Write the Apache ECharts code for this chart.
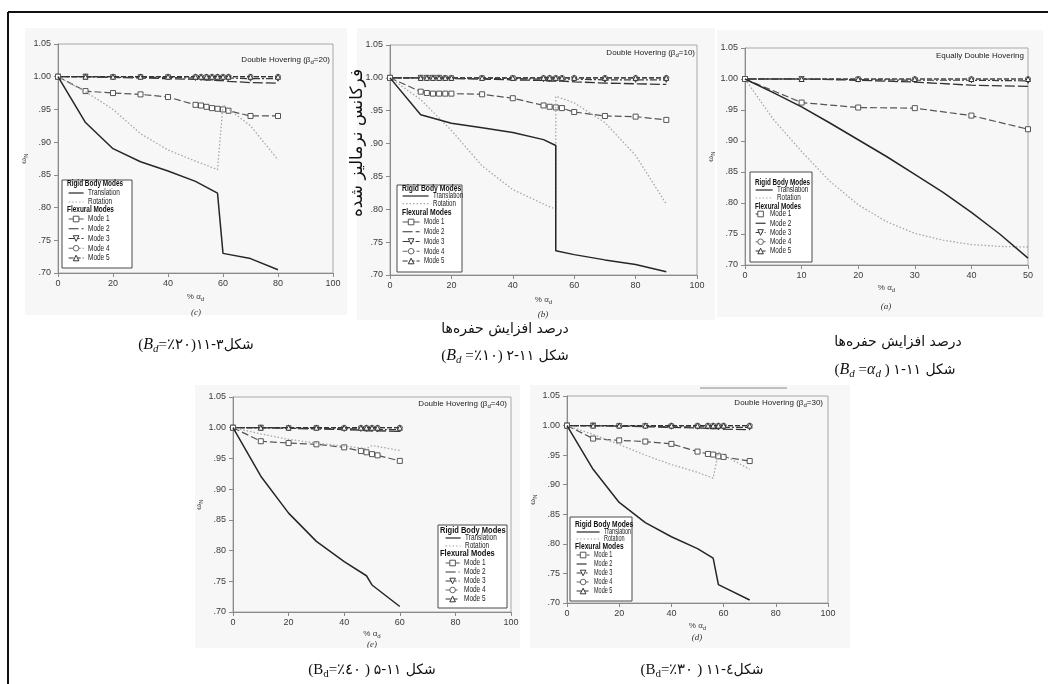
<!DOCTYPE html>
<html><head><meta charset="utf-8">
<script src="https://cdn.jsdelivr.net/npm/echarts@6/dist/echarts.min.js"></script>
<style>html,body{margin:0;padding:0;background:#fff}#chart{width:1048px;height:684px}</style>
</head><body><div id="chart"></div>
<script>
// ---------------- DATA ----------------
const SERIES_NAMES = ['Translation', 'Rotation', 'Mode 1', 'Mode 2', 'Mode 3', 'Mode 4', 'Mode 5'];
const Y_MIN = 0.70, Y_MAX = 1.05, Y_STEP = 0.05;

// (c) Double Hovering (beta_d = 20)
const c_xr = [0, 10, 20, 30, 40, 50, 58, 60, 70, 80];
const c_trans = [1.000, 0.930, 0.890, 0.870, 0.856, 0.840, 0.822, 0.730, 0.722, 0.705];
const c_rot = [1.000, 0.977, 0.950, 0.913, 0.888, 0.871, 0.858, 0.957, 0.925, 0.873];
const c_xm = [0, 10, 20, 30, 40, 50, 52, 54, 56, 58, 60, 62, 70, 80];
const c_m1 = [1.000, 0.978, 0.975, 0.973, 0.969, 0.957, 0.956, 0.954, 0.952, 0.951, 0.950, 0.948, 0.940, 0.940];
const c_m2 = [1.000, 1.000, 0.999, 0.998, 0.997, 0.996, 0.996, 0.995, 0.995, 0.994, 0.994, 0.993, 0.991, 0.990];
const c_m3 = [1.000, 1.000, 0.999, 0.999, 0.999, 0.998, 0.998, 0.998, 0.998, 0.998, 0.998, 0.998, 0.997, 0.997];
const c_m4 = [1.000, 1.000, 1.000, 1.000, 1.000, 1.000, 1.000, 1.000, 1.000, 1.000, 1.000, 1.000, 1.000, 1.000];
const c_m5 = [1.000, 1.000, 1.000, 1.000, 1.000, 1.000, 1.000, 1.000, 1.000, 1.000, 1.000, 1.000, 1.000, 1.000];

// (b) Double Hovering (beta_d = 10)
const b_xr = [0, 10, 20, 30, 40, 50, 54, 54, 60, 70, 80, 90];
const b_trans = [1.000, 0.944, 0.931, 0.924, 0.917, 0.906, 0.897, 0.737, 0.731, 0.723, 0.716, 0.705];
const b_rot = [1.000, 0.967, 0.920, 0.866, 0.830, 0.808, 0.800, 0.972, 0.962, 0.932, 0.882, 0.808];
const b_xm = [0, 10, 12, 14, 16, 18, 20, 30, 40, 50, 52, 54, 56, 60, 70, 80, 90];
const b_m1 = [1.000, 0.979, 0.977, 0.976, 0.976, 0.976, 0.976, 0.975, 0.969, 0.958, 0.956, 0.955, 0.954, 0.948, 0.942, 0.941, 0.936];
const b_m2 = [1.000, 1.000, 1.000, 1.000, 0.999, 0.999, 0.999, 0.998, 0.997, 0.996, 0.995, 0.995, 0.995, 0.994, 0.992, 0.991, 0.990];
const b_m3 = [1.000, 1.000, 1.000, 1.000, 1.000, 0.999, 0.999, 0.999, 0.999, 0.998, 0.998, 0.998, 0.998, 0.998, 0.997, 0.997, 0.997];
const b_m4 = [1.000, 1.000, 1.000, 1.000, 1.000, 1.000, 1.000, 1.000, 1.000, 1.000, 1.000, 1.000, 1.000, 1.000, 1.000, 1.000, 1.000];
const b_m5 = [1.000, 1.000, 1.000, 1.000, 1.000, 1.000, 1.000, 1.000, 1.000, 1.000, 1.000, 1.000, 1.000, 1.000, 1.000, 1.000, 1.000];

// (a) Equally Double Hovering
const a_xr = [0, 5, 10, 15, 20, 25, 30, 35, 40, 45, 50];
const a_trans = [1.000, 0.978, 0.955, 0.929, 0.902, 0.875, 0.846, 0.817, 0.785, 0.750, 0.711];
const a_rot = [1.000, 0.935, 0.883, 0.835, 0.797, 0.770, 0.751, 0.740, 0.733, 0.730, 0.729];
const a_xm = [0, 10, 20, 30, 40, 50];
const a_m1 = [1.000, 0.962, 0.954, 0.953, 0.941, 0.919];
const a_m2 = [1.000, 1.000, 0.998, 0.995, 0.990, 0.988];
const a_m3 = [1.000, 1.000, 0.999, 0.998, 0.998, 0.997];
const a_m4 = [1.000, 1.000, 1.000, 1.000, 1.000, 1.000];
const a_m5 = [1.000, 1.000, 1.000, 1.000, 1.000, 1.000];

// (e) Double Hovering (beta_d = 40)
const e_xr = [0, 10, 20, 30, 40, 48, 50, 60];
const e_trans = [1.000, 0.921, 0.861, 0.815, 0.782, 0.759, 0.744, 0.709];
const e_rot = [1.000, 0.990, 0.981, 0.975, 0.970, 0.966, 0.971, 0.963];
const e_xm = [0, 10, 20, 30, 40, 46, 48, 50, 52, 60];
const e_m1 = [1.000, 0.978, 0.975, 0.973, 0.968, 0.962, 0.960, 0.957, 0.955, 0.946];
const e_m2 = [1.000, 1.000, 0.999, 0.998, 0.997, 0.996, 0.995, 0.995, 0.995, 0.994];
const e_m3 = [1.000, 1.000, 0.999, 0.999, 0.998, 0.998, 0.998, 0.998, 0.997, 0.997];
const e_m4 = [1.000, 1.000, 1.000, 1.000, 1.000, 1.000, 1.000, 1.000, 1.000, 1.000];
const e_m5 = [1.000, 1.000, 1.000, 1.000, 1.000, 1.000, 1.000, 1.000, 1.000, 1.000];

// (d) Double Hovering (beta_d = 30)
const d_xr = [0, 10, 20, 30, 40, 50, 56, 58, 70];
const d_trans = [1.000, 0.926, 0.870, 0.836, 0.812, 0.792, 0.776, 0.731, 0.705];
const d_rot = [1.000, 0.985, 0.968, 0.950, 0.934, 0.921, 0.911, 0.955, 0.926];
const d_xm = [0, 10, 20, 30, 40, 50, 54, 56, 58, 60, 70];
const d_m1 = [1.000, 0.978, 0.975, 0.973, 0.969, 0.956, 0.952, 0.951, 0.948, 0.947, 0.940];
const d_m2 = [1.000, 1.000, 0.999, 0.998, 0.997, 0.996, 0.995, 0.995, 0.995, 0.994, 0.993];
const d_m3 = [1.000, 1.000, 0.999, 0.999, 0.998, 0.998, 0.998, 0.998, 0.997, 0.997, 0.997];
const d_m4 = [1.000, 1.000, 1.000, 1.000, 1.000, 1.000, 1.000, 1.000, 1.000, 1.000, 1.000];
const d_m5 = [1.000, 1.000, 1.000, 1.000, 1.000, 1.000, 1.000, 1.000, 1.000, 1.000, 1.000];

// texts
const TITLES = ['Double Hovering (β{s|d}=20)', 'Double Hovering (β{s|d}=10)', 'Equally Double Hovering', 'Double Hovering (β{s|d}=40)', 'Double Hovering (β{s|d}=30)'];
const TAGS = ['(c)', '(b)', '(a)', '(e)', '(d)'];
const CAPTIONS = [
  '{p|(}{i|B}{s|d}{p|=٪۲۰)}{f|شکل۳-۱۱}',
  '{p|(}{i|B}{s|d}{p| =٪۱۰) }{f|شکل ۱۱-۲}',
  '{p|(}{i|B}{s|d}{p| =}{i|α}{s|d}{p| ) }{f|شکل ۱۱-۱}',
  '{p|(B}{u|d}{p|=٪٤٠ ) }{f|شکل ۱۱-۵}',
  '{p|(B}{u|d}{p|=٪۳۰ ) }{f|شکل٤-۱۱}'
];
const PERSIAN_XLABEL = 'درصد افزایش حفره\u200cها';
const PERSIAN_YLABEL = 'فرکانس نرمالیز شده';
const HEAD_RIGID = 'Rigid Body Modes';
const HEAD_FLEX = 'Flexural Modes';

// ---------------- LAYOUT / STYLE ----------------
const PANEL_DATA = [
  {xr: c_xr, trans: c_trans, rot: c_rot, xm: c_xm, m: [c_m1, c_m2, c_m3, c_m4, c_m5]},
  {xr: b_xr, trans: b_trans, rot: b_rot, xm: b_xm, m: [b_m1, b_m2, b_m3, b_m4, b_m5]},
  {xr: a_xr, trans: a_trans, rot: a_rot, xm: a_xm, m: [a_m1, a_m2, a_m3, a_m4, a_m5]},
  {xr: e_xr, trans: e_trans, rot: e_rot, xm: e_xm, m: [e_m1, e_m2, e_m3, e_m4, e_m5]},
  {xr: d_xr, trans: d_trans, rot: d_rot, xm: d_xm, m: [d_m1, d_m2, d_m3, d_m4, d_m5]}
];
const LAYOUT = [
  {grid: [58, 44, 275, 229], xmax: 100, xint: 20, yName: true, titleXY: [330, 60], tagXY: [196, 313],
   box: [62, 180, 70, 88], headX: 67, headY: [184, 210], headW: 53, legR: [68, 193, 15, 9], legF: [68, 219, 15, 9.75],
   lf: 9, ls: 0.72, bg: [25, 28, 322, 287], capXY: [196, 345], xNameGap: 18},
  {grid: [390, 45, 307, 230], xmax: 100, xint: 20, yName: false, titleXY: [695, 53], tagXY: [543, 315],
   box: [397, 185, 65, 87], headX: 402, headY: [189, 213], headW: 56, legR: [402, 196, 26, 7.7], legF: [402, 222, 17, 9.75],
   lf: 9, ls: 0.68, bg: [357, 28, 358, 292], capXY: [505, 356], perXY: [505, 329], xNameGap: 19},
  {grid: [745, 48, 283, 217], xmax: 50, xint: 10, yName: true, titleXY: [1024, 56], tagXY: [886, 307],
   box: [750, 172, 62, 90], headX: 755, headY: [183, 207], headW: 52, legR: [755, 190, 17, 8], legF: [755, 214, 10, 9.25],
   lf: 8.5, ls: 0.75, bg: [717, 30, 326, 287], capXY: [895, 370], perXY: [898, 342], xNameGap: 17},
  {grid: [233, 397, 278, 215], xmax: 100, xint: 20, yName: true, titleXY: [507, 404], tagXY: [372, 645],
   box: [438, 525, 69, 83], headX: 440, headY: [531, 554], headW: 62, legR: [445, 538, 15, 8], legF: [445, 563, 14, 9],
   lf: 9, ls: 0.72, bg: [195, 385, 325, 263], capXY: [372, 670], xNameGap: 16},
  {grid: [567, 396, 261, 207], xmax: 100, xint: 20, yName: true, titleXY: [823, 403], tagXY: [697, 638],
   box: [570, 517, 62, 84], headX: 575, headY: [525, 547], headW: 55, legR: [576, 532, 23, 7], legF: [576, 555, 13, 9],
   lf: 8.5, ls: 0.65, bg: [530, 385, 320, 263], capXY: [702, 670], xNameGap: 17}
];
const STYLE = {
  'Translation': {symbol: 'none', color: '#262626', width: 1.5, dash: 'solid', z: 9},
  'Rotation': {symbol: 'none', color: '#a6a6a6', width: 1.3, dash: [1.5, 2], z: 8},
  'Mode 1': {symbol: 'rect', size: 5, color: '#555555', width: 1.2, dash: [7, 3], z: 7},
  'Mode 2': {symbol: 'none', color: '#333333', width: 1.3, dash: [10, 3], z: 3},
  'Mode 3': {symbol: 'triangle', rotate: 180, size: 5, color: '#3a3a3a', width: 1.2, dash: [7, 2, 2, 2], z: 4},
  'Mode 4': {symbol: 'circle', size: 5, color: '#666666', width: 1.2, dash: [5, 2], z: 5},
  'Mode 5': {symbol: 'triangle', size: 5, color: '#333333', width: 1.2, dash: [5, 2], z: 6}
};
const FONT = 'Liberation Sans, Arial, sans-serif';
const SERIF = 'Liberation Serif, Times New Roman, serif';
const PFONT = 'DejaVu Sans, Noto Sans, sans-serif';
const HEAD_NATURAL_W = 70; // approx width of bold 8px heading before scaling

function pairs(xs, ys) { return xs.map((x, i) => [x, ys[i]]); }
function yFmt(v) { const s = v.toFixed(2); return v >= 0.999 ? s : s.slice(1); }

const grids = [], xAxes = [], yAxes = [], series = [], legends = [], elements = [];

function label(x, y, text, size, scale) {
  return {type: 'text', z: 7, silent: true, x: x, y: y, scaleX: scale, scaleY: 1,
    style: {text: text, fontSize: size, fontFamily: FONT, fill: '#1a1a1a', align: 'left', verticalAlign: 'middle'}};
}

LAYOUT.forEach((P, gi) => {
  const D = PANEL_DATA[gi];
  grids.push({left: P.grid[0], top: P.grid[1], width: P.grid[2], height: P.grid[3],
    show: true, borderColor: '#a8a8a8', borderWidth: 1, backgroundColor: 'transparent',
    containLabel: false, outerBoundsMode: 'none'});
  xAxes.push({gridIndex: gi, type: 'value', min: 0, max: P.xmax, interval: P.xint,
    axisLine: {show: true, onZero: false, lineStyle: {color: '#8a8a8a', width: 1}},
    axisTick: {show: true, inside: false, length: 4, lineStyle: {color: '#8a8a8a'}},
    axisLabel: {show: true, margin: 6, fontSize: 9, color: '#3a3a3a', fontFamily: FONT},
    splitLine: {show: false},
    name: '% α{s|d}', nameLocation: 'middle', nameGap: P.xNameGap,
    nameTextStyle: {fontSize: 8, color: '#3a3a3a', fontFamily: FONT, lineHeight: 11,
      rich: {s: {fontSize: 6, verticalAlign: 'bottom', lineHeight: 7, color: '#3a3a3a', fontFamily: FONT}}}
  });
  yAxes.push({gridIndex: gi, type: 'value', min: Y_MIN, max: Y_MAX, interval: Y_STEP,
    axisLine: {show: true, onZero: false, lineStyle: {color: '#8a8a8a', width: 1}},
    axisTick: {show: true, inside: false, length: 4, lineStyle: {color: '#8a8a8a'}},
    axisLabel: {show: true, margin: 7, fontSize: 9, color: '#3a3a3a', fontFamily: FONT, formatter: yFmt},
    splitLine: {show: false},
    name: P.yName ? '{w|ω}{s|N}' : '', nameLocation: 'middle', nameGap: 22, nameRotate: 90,
    nameTextStyle: {fontSize: 9, color: '#3a3a3a', fontFamily: SERIF, lineHeight: 11,
      rich: {w: {fontSize: 9, fontFamily: SERIF, color: '#3a3a3a', lineHeight: 11},
             s: {fontSize: 6, verticalAlign: 'bottom', lineHeight: 7, fontFamily: FONT, color: '#3a3a3a'}}}
  });
  const sets = [['Translation', D.xr, D.trans], ['Rotation', D.xr, D.rot]];
  D.m.forEach((ys, k) => sets.push([SERIES_NAMES[k + 2], D.xm, ys]));
  sets.forEach(([name, xs, ys]) => {
    const st = STYLE[name];
    series.push({type: 'line', name, xAxisIndex: gi, yAxisIndex: gi, data: pairs(xs, ys),
      symbol: st.symbol, symbolSize: st.size || 0, symbolRotate: st.rotate || 0,
      showSymbol: st.symbol !== 'none', showAllSymbol: true, clip: true,
      lineStyle: {color: st.color, width: st.width, type: st.dash},
      itemStyle: {color: '#ffffff', borderColor: st.color, borderWidth: 1},
      emphasis: {disabled: true}, silent: true, z: st.z, animation: false});
  });
  // legends (icons drawn by ECharts; labels drawn as condensed text)
  const common = {orient: 'vertical', padding: 0, selectedMode: false, itemHeight: 7,
    itemStyle: {borderWidth: 1}, lineStyle: {width: 1.2}, formatter: function () { return ' '; },
    textStyle: {fontSize: 8, lineHeight: 9, color: '#222', fontFamily: FONT}, z: 6};
  legends.push(Object.assign({}, common, {left: P.legR[0], top: P.legR[1] - 4.5, itemWidth: P.legR[2], itemGap: P.legR[3] - 9,
    data: [{name: 'Translation', itemStyle: {opacity: 0}}, {name: 'Rotation', itemStyle: {opacity: 0}}]}));
  legends.push(Object.assign({}, common, {left: P.legF[0], top: P.legF[1] - 4.5, itemWidth: P.legF[2], itemGap: P.legF[3] - 9,
    data: ['Mode 1', {name: 'Mode 2', itemStyle: {opacity: 0}}, 'Mode 3', 'Mode 4', 'Mode 5']}));
  ['Translation', 'Rotation'].forEach((n, k) => elements.push(label(P.legR[0] + P.legR[2] + 5, P.legR[1] + k * P.legR[3], n, P.lf, P.ls)));
  SERIES_NAMES.slice(2).forEach((n, k) => elements.push(label(P.legF[0] + P.legF[2] + 5, P.legF[1] + k * P.legF[3], n, P.lf, P.ls)));
  // graphic pieces
  elements.push({type: 'rect', z: -10, silent: true, shape: {x: P.bg[0], y: P.bg[1], width: P.bg[2], height: P.bg[3]}, style: {fill: '#f7f7f7'}});
  elements.push({type: 'rect', z: 5, silent: true, shape: {x: P.box[0], y: P.box[1], width: P.box[2], height: P.box[3]}, style: {fill: '#ffffff', stroke: '#4a4a4a', lineWidth: 1}});
  [HEAD_RIGID, HEAD_FLEX].forEach((h, k) => elements.push({type: 'text', z: 7, silent: true, x: P.headX, y: P.headY[k],
    scaleX: P.headW / HEAD_NATURAL_W, scaleY: 1,
    style: {text: h, fontSize: 8.5, fontWeight: 'bold', fontFamily: FONT, fill: '#111', align: 'left', verticalAlign: 'middle'}}));
  elements.push({type: 'text', z: 7, silent: true, x: P.titleXY[0], y: P.titleXY[1], style: {text: TITLES[gi], fontSize: 8, fontFamily: FONT, fill: '#222', align: 'right', verticalAlign: 'middle', lineHeight: 11,
    rich: {s: {fontSize: 6, verticalAlign: 'bottom', lineHeight: 7, fontFamily: FONT, fill: '#222'}}}});
  elements.push({type: 'text', z: 7, silent: true, x: P.tagXY[0], y: P.tagXY[1], style: {text: TAGS[gi], fontSize: 9, fontFamily: SERIF, fontStyle: 'italic', fill: '#333', align: 'center', verticalAlign: 'middle'}});
  elements.push({type: 'text', z: 7, silent: true, x: P.capXY[0], y: P.capXY[1], style: {text: CAPTIONS[gi], align: 'center', verticalAlign: 'middle', fill: '#111',
    rich: {
      p: {fontSize: 15, fontFamily: SERIF, lineHeight: 20, fill: '#111'},
      i: {fontSize: 16, fontFamily: SERIF, fontStyle: 'italic', lineHeight: 20, fill: '#111'},
      s: {fontSize: 11, fontFamily: SERIF, fontStyle: 'italic', verticalAlign: 'bottom', lineHeight: 12, fill: '#111'},
      u: {fontSize: 11, fontFamily: SERIF, verticalAlign: 'bottom', lineHeight: 12, fill: '#111'},
      f: {fontSize: 14, fontFamily: PFONT, lineHeight: 20, fill: '#111'}
    }}});
  if (P.perXY) {
    elements.push({type: 'text', z: 7, silent: true, x: P.perXY[0], y: P.perXY[1], style: {text: PERSIAN_XLABEL, fontSize: 14, fontFamily: PFONT, fill: '#111', align: 'center', verticalAlign: 'middle'}});
  }
});

// frame and misc
elements.push({type: 'line', z: 8, silent: true, shape: {x1: 8, y1: 12, x2: 1048, y2: 12}, style: {stroke: '#111', lineWidth: 2}});
elements.push({type: 'line', z: 8, silent: true, shape: {x1: 8, y1: 12, x2: 8, y2: 684}, style: {stroke: '#111', lineWidth: 2}});
elements.push({type: 'line', z: 8, silent: true, shape: {x1: 700, y1: 388, x2: 787, y2: 388}, style: {stroke: '#888', lineWidth: 1}});
elements.push({type: 'rect', z: 9, silent: true, shape: {x: 355, y: 648, width: 35, height: 6}, style: {fill: '#ffffff'}});
elements.push({type: 'text', z: 7, silent: true, x: 358, y: 143, rotation: Math.PI / 2, style: {text: PERSIAN_YLABEL, fontSize: 17, fontFamily: PFONT, fill: '#111', align: 'center', verticalAlign: 'middle'}});

const chart = echarts.init(document.getElementById('chart'), null, {renderer: 'canvas'});
chart.setOption({
  animation: false,
  backgroundColor: '#ffffff',
  grid: grids, xAxis: xAxes, yAxis: yAxes, series: series, legend: legends,
  graphic: {elements: elements}
});
</script></body></html>
